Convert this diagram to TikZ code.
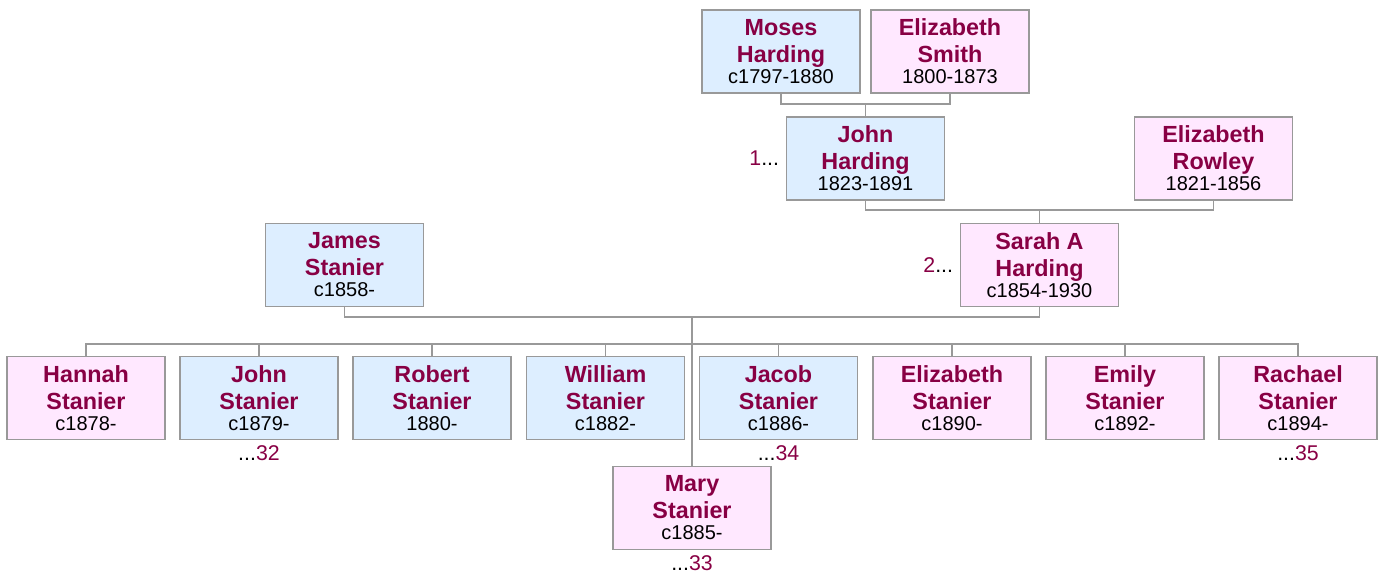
\documentclass[tikz,border=0pt]{standalone}
\usepackage{fontspec}
\setmainfont{Liberation Sans}
\usetikzlibrary{positioning}

\definecolor{namered}{HTML}{880044}
\definecolor{malefill}{HTML}{DDEEFF}
\definecolor{femalefill}{HTML}{FFE8FF}
\definecolor{edgegray}{HTML}{999999}

\newcommand{\who}[3]{\textcolor{namered}{\bfseries #1}\\\textcolor{namered}{\bfseries #2}\\[-4.5pt]{\fontsize{15}{16}\selectfont #3}}

\tikzset{
  person/.style={draw=edgegray, line width=0.8pt, minimum width=118.5pt, minimum height=62.25pt,
    inner sep=0pt, align=center, font=\fontsize{17.5}{20.25}\selectfont},
  male/.style={person, fill=malefill},
  female/.style={person, fill=femalefill},
  link/.style={draw=edgegray, line width=0.8pt},
  ref/.style={inner sep=0pt, font=\fontsize{16}{18}\selectfont}
}

\begin{document}
\begin{tikzpicture}[x=0.75pt, y=-0.75pt]
    \useasboundingbox (0,0) rectangle (1382,575);
    % grandparents
    \node[male] (moses) at (781,51.5) {\who{Moses}{Harding}{c1797-1880}};
    \node[female] (esmith) at (950,51.5) {\who{Elizabeth}{Smith}{1800-1873}};
    \node[male] (john) at (865.5,158.5) {\who{John}{Harding}{1823-1891}};
    \node[female] (rowley) at (1213.5,158.5) {\who{Elizabeth}{Rowley}{1821-1856}};
    % parents
    \node[male] (james) at (344.5,265) {\who{James}{Stanier}{c1858-}};
    \node[female] (sarah) at (1039.5,265) {\who{Sarah A}{Harding}{c1854-1930}};
    % children
    \node[female] (hannah) at (86,398) {\who{Hannah}{Stanier}{c1878-}};
    \node[male] (jstan) at (259,398) {\who{John}{Stanier}{c1879-}};
    \node[male] (robert) at (432,398) {\who{Robert}{Stanier}{1880-}};
    \node[male] (william) at (605.5,398) {\who{William}{Stanier}{c1882-}};
    \node[male] (jacob) at (778.5,398) {\who{Jacob}{Stanier}{c1886-}};
    \node[female] (eliz) at (952,398) {\who{Elizabeth}{Stanier}{c1890-}};
    \node[female] (emily) at (1125,398) {\who{Emily}{Stanier}{c1892-}};
    \node[female] (rachael) at (1298,398) {\who{Rachael}{Stanier}{c1894-}};
    \node[female] (mary) at (692,508) {\who{Mary}{Stanier}{c1885-}};

    % connectors
    \coordinate (bar1) at (865.5,104);
    \coordinate (bar2) at (1039.5,210);
    \coordinate (bar3) at (692,317);
    \coordinate (kids) at (692,344);
    \draw[link] (moses.south) |- (bar1) -| (esmith.south);
    \draw[link] (bar1) -- (john.north);
    \draw[link] (john.south) |- (bar2) -| (rowley.south);
    \draw[link] (bar2) -- (sarah.north);
    \draw[link] (james.south) |- (bar3) -| (sarah.south);
    \draw[link] (bar3) -- (mary.north);
    \draw[link] (hannah.north) |- (kids) -| (rachael.north);
    \foreach \c in {jstan,robert,william,jacob,eliz,emily}
        \draw[link] (\c.north) -- (\c.north |- kids);

    % references
    \node[ref, left=5pt of john] (r1) {\textcolor{namered}{1}...};
    \node[ref, left=5pt of sarah] (r2) {\textcolor{namered}{2}...};
    \node[ref, below=4pt of jstan] (r32) {...\textcolor{namered}{32}};
    \node[ref, below=4pt of mary] (r33) {...\textcolor{namered}{33}};
    \node[ref, below=4pt of jacob] (r34) {...\textcolor{namered}{34}};
    \node[ref, below=4pt of rachael] (r35) {...\textcolor{namered}{35}};
\end{tikzpicture}
\end{document}
